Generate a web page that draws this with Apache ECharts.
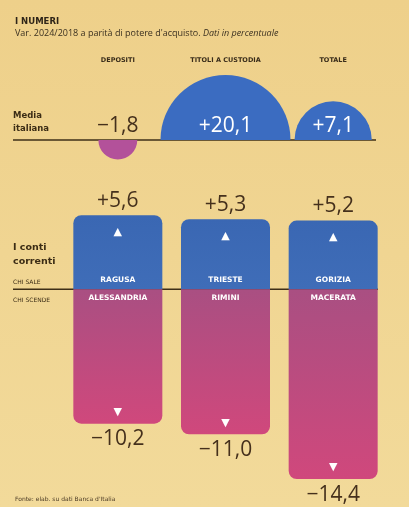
<!DOCTYPE html>
<html>
<head>
<meta charset="utf-8">
<script src="https://cdn.jsdelivr.net/npm/echarts@6/dist/echarts.min.js"></script>
<style>
  html, body { margin: 0; padding: 0; }
  #chart { width: 409px; height: 507px; }
</style>
</head>
<body>
<div id="chart"></div>
<script>
// colonne e valori (media italiana)
const columns = ['DEPOSITI', 'TITOLI A CUSTODIA', 'TOTALE'];
const mediaItaliana = [-1.8, 20.1, 7.1];
// conti correnti: chi sale / chi scende
const citiesUp = ['RAGUSA', 'TRIESTE', 'GORIZIA'];
const valuesUp = [5.6, 5.3, 5.2];
const citiesDown = ['ALESSANDRIA', 'RIMINI', 'MACERATA'];
const valuesDown = [-10.2, -11.0, -14.4];

const ink = '#45301c';
const numFont = '"Open Sans", sans-serif';
const boldFont = '"DejaVu Sans", sans-serif';

const fmt = (v) => (v > 0 ? '+' : '\u2212') + Math.abs(v).toFixed(1).replace('.', ',');

const chart = echarts.init(document.getElementById('chart'));

const blueGrad = new echarts.graphic.LinearGradient(0, 0, 0, 1, [
  { offset: 0, color: '#3a67b3' },
  { offset: 1, color: '#3f6db8' },
]);
const pinkGrad = new echarts.graphic.LinearGradient(0, 0, 0, 1, [
  { offset: 0, color: '#a94f82' },
  { offset: 1, color: '#d0487c' },
]);

const ghost = { color: 'rgba(0,0,0,0)' };

const option = {
  backgroundColor: new echarts.graphic.LinearGradient(0, 0, 0, 1, [
    { offset: 0, color: '#eed08a' },
    { offset: 1, color: '#f2da9a' },
  ]),
  animation: false,
  title: {
    left: 10,
    top: 12,
    text: 'I NUMERI',
    textStyle: { fontFamily: boldFont, fontSize: 8.5, fontWeight: 'bold', color: '#2e2418' },
    subtext: '{a|Var. 2024/2018 a parità di potere d\'acquisto. }{b|Dati in percentuale}',
    itemGap: 3,
    subtextStyle: {
      rich: {
        a: { fontFamily: numFont, fontSize: 9, color: '#3a3020' },
        b: { fontFamily: numFont, fontSize: 9, fontStyle: 'italic', color: '#3a3020' },
      },
    },
  },
  grid: [
    { left: 64, right: 22, top: 67, height: 146 },
    { left: 64, right: 22, top: 210, bottom: 20 },
  ],
  xAxis: [
    {
      gridIndex: 0,
      type: 'category',
      position: 'top',
      data: columns,
      axisLine: { show: false },
      axisTick: { show: false },
      axisLabel: {
        margin: 3,
        fontFamily: boldFont,
        fontSize: 6.5,
        fontWeight: 'bold',
        color: '#3a2d1a',
      },
    },
    {
      gridIndex: 1,
      type: 'category',
      data: columns,
      show: false,
    },
  ],
  yAxis: [
    { gridIndex: 0, type: 'value', min: -1, max: 1, show: false },
    { gridIndex: 1, type: 'value', min: -15, max: 6, show: false },
  ],
  series: [
    {
      type: 'custom',
      xAxisIndex: 0,
      yAxisIndex: 0,
      z: 3,
      data: mediaItaliana.map((v, i) => [i, v]),
      renderItem(params, api) {
        const v = api.value(1);
        const p = api.coord([api.value(0), 0]);
        // area proporzionale al valore
        const r = 14.5 * Math.sqrt(Math.abs(v));
        const up = v >= 0;
        return {
          type: 'group',
          children: [
            {
              type: 'sector',
              shape: {
                cx: p[0], cy: p[1], r0: 0, r,
                startAngle: up ? Math.PI : 0,
                endAngle: up ? Math.PI * 2 : Math.PI,
              },
              style: { fill: up ? '#3b6cc1' : '#b3519a' },
            },
            {
              type: 'text',
              x: p[0],
              y: p[1] - 14,
              style: {
                text: fmt(v),
                fill: up ? '#ffffff' : ink,
                fontSize: 21,
                fontFamily: numFont,
                align: 'center',
                verticalAlign: 'middle',
              },
            },
          ],
        };
      },
    },
    {
      name: 'sale',
      type: 'bar',
      xAxisIndex: 1,
      yAxisIndex: 1,
      barWidth: 89,
      barGap: '-100%',
      data: valuesUp,
      itemStyle: { color: blueGrad, borderRadius: [8, 8, 0, 0] },
      label: {
        show: true,
        position: 'top',
        distance: 4,
        formatter: (p) => fmt(p.value),
        fontSize: 21,
        fontFamily: numFont,
        color: ink,
      },
    },
    {
      name: 'scende',
      type: 'bar',
      xAxisIndex: 1,
      yAxisIndex: 1,
      barWidth: 89,
      barGap: '-100%',
      data: valuesDown,
      itemStyle: { color: pinkGrad, borderRadius: [0, 0, 8, 8] },
      label: {
        show: true,
        position: 'bottom',
        distance: 5,
        formatter: (p) => fmt(p.value),
        fontSize: 21,
        fontFamily: numFont,
        color: ink,
      },
    },
    {
      type: 'bar',
      xAxisIndex: 1,
      yAxisIndex: 1,
      barWidth: 89,
      barGap: '-100%',
      data: valuesUp,
      itemStyle: ghost,
      label: {
        show: true,
        position: 'insideBottom',
        distance: 5,
        formatter: (p) => citiesUp[p.dataIndex],
        fontSize: 7.5,
        fontWeight: 'bold',
        fontFamily: boldFont,
        color: '#fff',
      },
    },
    {
      type: 'bar',
      xAxisIndex: 1,
      yAxisIndex: 1,
      barWidth: 89,
      barGap: '-100%',
      data: valuesDown,
      itemStyle: ghost,
      label: {
        show: true,
        position: 'insideTop',
        distance: 5,
        formatter: (p) => citiesDown[p.dataIndex],
        fontSize: 7.5,
        fontWeight: 'bold',
        fontFamily: boldFont,
        color: '#fff',
      },
    },
    {
      type: 'bar',
      xAxisIndex: 1,
      yAxisIndex: 1,
      barWidth: 89,
      barGap: '-100%',
      data: valuesUp,
      itemStyle: ghost,
      label: {
        show: true,
        position: 'insideTop',
        distance: 11,
        formatter: '▲',
        fontSize: 11,
        fontFamily: boldFont,
        color: '#fff',
      },
    },
    {
      type: 'bar',
      xAxisIndex: 1,
      yAxisIndex: 1,
      barWidth: 89,
      barGap: '-100%',
      data: valuesDown,
      itemStyle: ghost,
      label: {
        show: true,
        position: 'insideBottom',
        distance: 6,
        formatter: '▼',
        fontSize: 11,
        fontFamily: boldFont,
        color: '#fff',
      },
    },
  ],
};

chart.setOption(option);

// linee di base e testi a sinistra
const y0Top = chart.convertToPixel({ yAxisIndex: 0 }, 0);
const y0Bot = chart.convertToPixel({ yAxisIndex: 1 }, 0);
const leftText = (text, y, size, bold) => ({
  type: 'text',
  left: 13,
  top: y,
  z: 5,
  style: {
    text,
    fontSize: size,
    fontWeight: bold ? 'bold' : 'normal',
    fontFamily: boldFont,
    fill: '#3b2c15',
    lineHeight: size + 4,
  },
});

chart.setOption({
  graphic: [
    {
      type: 'line',
      z: 1,
      shape: { x1: 13, y1: y0Top, x2: 376, y2: y0Top },
      style: { stroke: '#3e2f17', lineWidth: 1.5 },
    },
    {
      type: 'line',
      z: 1,
      shape: { x1: 13, y1: y0Bot, x2: 378, y2: y0Bot },
      style: { stroke: '#3e2f17', lineWidth: 1.5 },
    },
    leftText('Media\nitaliana', y0Top - 30, 8.5, true),
    leftText('I conti\ncorrenti', y0Bot - 48, 9.5, true),
    leftText('CHI SALE', y0Bot - 12, 6, false),
    leftText('CHI SCENDE', y0Bot + 6, 6, false),
    {
      type: 'text',
      left: 15,
      top: 496,
      style: {
        text: 'Fonte: elab. su dati Banca d\'Italia',
        fontSize: 6,
        fontFamily: boldFont,
        fill: '#4a3a25',
      },
    },
  ],
});
</script>
</body>
</html>
